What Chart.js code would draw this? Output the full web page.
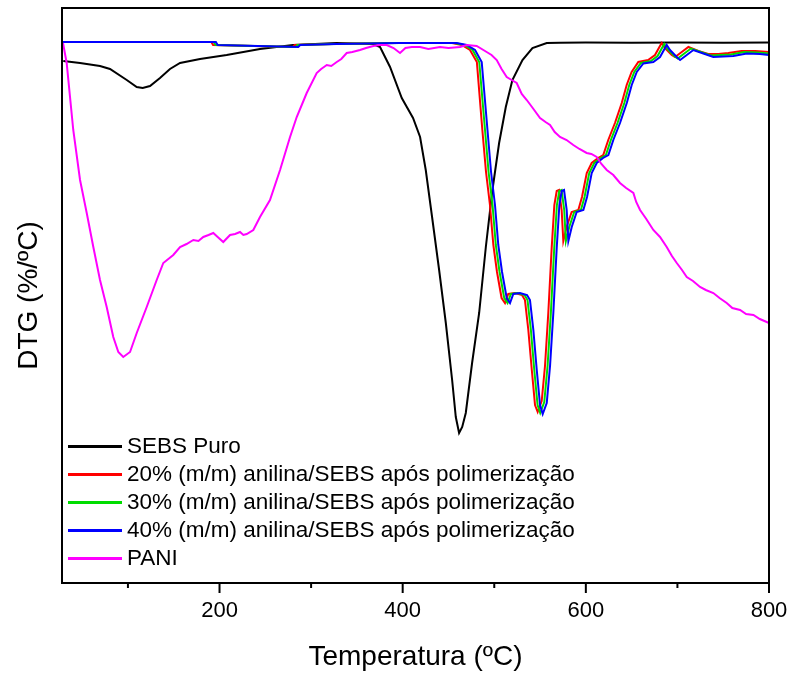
<!DOCTYPE html>
<html>
<head>
<meta charset="utf-8">
<script src="https://cdn.jsdelivr.net/npm/chart.js@4.4.0/dist/chart.umd.min.js"></script>
<style>
body{margin:0;background:#fff}
#wrap{position:relative;width:795px;height:675px}
#legenda{position:absolute;left:68px;top:432px;font:22.5px "Liberation Sans",Arial,sans-serif;color:#000}
#legenda .fila{display:flex;align-items:center;height:28px;white-space:nowrap}
#legenda .linea{width:54px;height:3px;margin-right:5px}
</style>
</head>
<body>
<div id="wrap">
  <canvas id="grafico" width="795" height="675"></canvas>
  <div id="legenda"></div>
</div>
<script>
// datos (DTG en unidades arbitrarias, negativo hacia abajo)
const nombres = ["SEBS Puro", "20% (m/m) anilina/SEBS após polimerização", "30% (m/m) anilina/SEBS após polimerização", "40% (m/m) anilina/SEBS após polimerização", "PANI"]
const colores = ["#000000", "#ff0000", "#00dd00", "#0000ff", "#ff00ff"]
const marcasX = [200, 400, 600, 800]

const tempSEBS = [29.4, 47.7, 69.5, 80.4, 98.7, 109.6, 116.1, 124.1, 135, 145.9, 156.9, 178.7, 207.8, 244.2, 280.3, 328.3, 367.6, 375.3, 386.2, 399, 411.3, 419, 425.2, 432.1, 439.8, 447.1, 454, 458, 461.6, 465, 468.9, 475.8, 483.5, 490.8, 498, 505.3, 512.6, 519.8, 530.8, 541.7, 557.3, 571.8, 600, 650, 700, 750, 800]
const dtgSEBS = [-0.19, -0.21, -0.24, -0.27, -0.38, -0.45, -0.46, -0.44, -0.36, -0.27, -0.21, -0.17, -0.13, -0.07, -0.03, -0.01, -0.02, -0.05, -0.25, -0.56, -0.76, -0.95, -1.28, -1.75, -2.28, -2.81, -3.38, -3.75, -3.91, -3.85, -3.71, -3.21, -2.71, -2.05, -1.48, -1.01, -0.65, -0.38, -0.18, -0.06, -0.01, -0.007, -0.005, -0.008, -0.006, -0.008, -0.006]

const temp20 = [28, 191, 193, 237, 280, 282, 323, 392, 454, 464.5, 473.5, 481, 487, 491, 495.3, 499, 503, 508, 511.7, 515.3, 522.6, 530.3, 533.5, 537.2, 541, 544.5, 547.4, 551.8, 555.4, 559, 562.7, 565.6, 568.2, 570.7, 573.6, 575.4, 579, 584.5, 591.8, 595.8, 601, 606.4, 613.3, 619, 624.5, 631.8, 639.2, 644.6, 650, 657.3, 668, 675.5, 682.8, 686.4, 693.8, 697.4, 704.7, 712, 722.8, 733.7, 744.6, 755.6, 770, 785, 800]
const dtg20 = [0, 0, -0.03, -0.04, -0.05, -0.03, -0.02, -0.01, -0.01, -0.03, -0.08, -0.2, -0.88, -1.3, -1.63, -2.03, -2.3, -2.56, -2.61, -2.52, -2.51, -2.53, -2.58, -2.88, -3.28, -3.63, -3.7, -3.59, -3.24, -2.71, -2.06, -1.63, -1.49, -1.48, -1.68, -1.99, -1.85, -1.7, -1.68, -1.55, -1.31, -1.21, -1.16, -1.13, -0.98, -0.81, -0.61, -0.43, -0.3, -0.2, -0.18, -0.13, -0.01, -0.06, -0.13, -0.15, -0.1, -0.05, -0.09, -0.12, -0.12, -0.11, -0.09, -0.09, -0.1]

const temp30 = [28, 193.5, 195.7, 239.3, 283, 285.2, 325.3, 394.3, 456.3, 467.3, 476.3, 483.6, 489.9, 493.8, 498.1, 501.7, 505.8, 510.9, 514.5, 518.1, 525.4, 533.1, 536.3, 540, 543.7, 547.3, 550.2, 554.6, 558.2, 561.8, 565.5, 568.4, 571, 573.5, 576.4, 578.2, 581.9, 587.3, 594.6, 598.6, 603.7, 609.2, 616.1, 621.9, 627.3, 634.6, 642, 647.4, 652.9, 660.1, 671, 678.3, 685.6, 689.2, 696.6, 700.2, 707.5, 714.7, 725.6, 736.5, 747.4, 758.4, 773, 787.5, 800]
const dtg30 = [0, 0, -0.03, -0.04, -0.05, -0.03, -0.02, -0.01, -0.01, -0.03, -0.08, -0.2, -0.88, -1.3, -1.63, -2.03, -2.3, -2.56, -2.61, -2.52, -2.51, -2.53, -2.58, -2.88, -3.28, -3.63, -3.71, -3.6, -3.24, -2.71, -2.06, -1.63, -1.49, -1.48, -1.68, -1.99, -1.85, -1.7, -1.68, -1.55, -1.31, -1.21, -1.16, -1.13, -0.98, -0.81, -0.61, -0.43, -0.3, -0.21, -0.19, -0.14, -0.02, -0.07, -0.14, -0.165, -0.115, -0.065, -0.1, -0.135, -0.13, -0.125, -0.1, -0.105, -0.115]

const temp40 = [28, 196, 198, 242, 286, 288, 328, 397, 459, 470, 479, 486.3, 492.6, 496.5, 500.8, 504.4, 508.5, 513.6, 517.2, 520.8, 528.1, 535.8, 539, 542.7, 546.4, 550, 552.9, 557.3, 560.9, 564.5, 568.2, 571.1, 573.7, 576.2, 579.1, 580.9, 584.6, 590, 597.3, 601.3, 606.4, 611.9, 618.8, 624.6, 630, 637.3, 644.7, 650.1, 655.6, 662.8, 673.7, 681, 688.3, 691.9, 699.3, 702.9, 710.2, 717.4, 728.3, 739.2, 750.1, 761.1, 775.7, 790.2, 800]
const dtg40 = [0, 0, -0.03, -0.04, -0.05, -0.03, -0.02, -0.01, -0.01, -0.03, -0.08, -0.2, -0.88, -1.3, -1.63, -2.03, -2.3, -2.56, -2.61, -2.52, -2.51, -2.53, -2.58, -2.88, -3.28, -3.63, -3.72, -3.61, -3.24, -2.71, -2.06, -1.63, -1.49, -1.48, -1.68, -1.99, -1.85, -1.7, -1.68, -1.55, -1.31, -1.21, -1.16, -1.13, -0.98, -0.81, -0.61, -0.43, -0.3, -0.215, -0.2, -0.15, -0.03, -0.08, -0.15, -0.18, -0.13, -0.08, -0.115, -0.15, -0.145, -0.14, -0.115, -0.12, -0.13]

const tempPANI = [29.1, 33.1, 40.3, 47.7, 55, 62.2, 69.5, 76.8, 84, 89.5, 94.9, 102.3, 109.6, 120.5, 131.4, 138.6, 149.5, 156.9, 164, 171.4, 177, 182.3, 188, 193.2, 198, 204.1, 211.5, 217, 222.4, 226, 229.7, 236.9, 244.2, 255.1, 266.1, 277, 284.3, 295.2, 306.1, 311, 317.1, 322, 328, 333, 338.9, 345, 353.4, 360, 368, 375, 382.6, 390, 397.1, 403, 410, 419, 428, 440.8, 450, 462.6, 470, 480.8, 491.7, 497, 502.7, 508, 513.6, 519, 524.5, 530, 535.5, 542, 550, 556, 560.9, 566, 571.8, 579, 586.3, 593, 600.9, 606, 611.9, 617, 622.8, 630, 637.3, 644, 651.9, 655, 659.2, 666, 673.7, 681, 688.3, 694, 699.3, 705, 710.2, 717, 724.7, 731, 739.2, 746, 753.8, 760, 768.4, 775, 783, 790, 797.5, 800]
const dtgPANI = [-0.01, -0.21, -0.88, -1.38, -1.71, -2.05, -2.38, -2.65, -2.95, -3.1, -3.15, -3.1, -2.91, -2.65, -2.38, -2.21, -2.13, -2.05, -2.02, -1.98, -1.99, -1.95, -1.93, -1.91, -1.95, -2, -1.93, -1.92, -1.9, -1.93, -1.92, -1.88, -1.75, -1.58, -1.28, -0.95, -0.75, -0.51, -0.31, -0.27, -0.23, -0.24, -0.2, -0.17, -0.11, -0.1, -0.08, -0.06, -0.04, -0.03, -0.03, -0.06, -0.11, -0.06, -0.05, -0.05, -0.07, -0.05, -0.06, -0.05, -0.03, -0.04, -0.1, -0.13, -0.18, -0.27, -0.35, -0.38, -0.41, -0.52, -0.58, -0.66, -0.76, -0.8, -0.83, -0.9, -0.95, -0.98, -1.03, -1.07, -1.11, -1.12, -1.15, -1.22, -1.28, -1.33, -1.41, -1.46, -1.51, -1.6, -1.68, -1.77, -1.88, -1.95, -2.05, -2.14, -2.21, -2.28, -2.35, -2.39, -2.45, -2.48, -2.51, -2.56, -2.61, -2.66, -2.68, -2.72, -2.73, -2.77, -2.8, -2.81]

const temps = [tempSEBS, temp20, temp30, temp40, tempPANI]
const dtgs = [dtgSEBS, dtg20, dtg30, dtg40, dtgPANI]
const orden = [5, 4, 3, 2, 1]

const fuente = '"Liberation Sans", Arial, sans-serif'

const datasets = nombres.map((n, i) => ({
    label: n,
    data: temps[i].map((t, j) => ({x: t, y: dtgs[i][j]})),
    borderColor: colores[i],
    backgroundColor: colores[i],
    borderWidth: 2,
    pointRadius: 0,
    tension: 0,
    order: orden[i]
}))

// marco del grafico y marcas del eje x
const marco = {
    id: "marco",
    afterDraw(chart) {
        const ctx = chart.ctx
        const a = chart.chartArea
        const ex = chart.scales.x
        ctx.save()
        ctx.strokeStyle = "#000"
        ctx.lineWidth = 2
        ctx.strokeRect(a.left, a.top, a.right - a.left, a.bottom - a.top)
        for (let t = 100; t <= 800; t += 100) {
            let px = ex.getPixelForValue(t)
            let largo = t % 200 === 0 ? 10 : 5
            ctx.beginPath()
            ctx.moveTo(px, a.bottom)
            ctx.lineTo(px, a.bottom + largo)
            ctx.stroke()
        }
        ctx.restore()
    }
}

new Chart(document.getElementById("grafico"), {
    type: "line",
    data: { datasets },
    options: {
        responsive: false,
        animation: false,
        devicePixelRatio: 1,
        layout: { padding: { top: 8, right: 26, left: 0, bottom: 0 } },
        plugins: { legend: { display: false }, tooltip: { enabled: false } },
        scales: {
            x: {
                type: "linear",
                min: 28,
                max: 800,
                afterBuildTicks: s => { s.ticks = marcasX.map(v => ({ value: v })) },
                afterFit: s => { s.height = 92; s.paddingLeft = 0; s.paddingRight = 0 },
                grid: { display: false, drawTicks: false },
                border: { display: false },
                ticks: { color: "#000", font: { family: fuente, size: 22 }, padding: 15, maxRotation: 0 },
                title: { display: true, text: "Temperatura (ºC)", color: "#000", font: { family: fuente, size: 28 }, padding: { top: 0, bottom: 1 } }
            },
            y: {
                min: -5.41,
                max: 0.34,
                afterFit: s => { s.width = 62; s.paddingTop = 0; s.paddingBottom = 0 },
                grid: { display: false, drawTicks: false },
                border: { display: false },
                ticks: { display: false },
                title: { display: true, text: "DTG (%/ºC)", color: "#000", font: { family: fuente, size: 28 }, padding: { top: 12, bottom: 0 } }
            }
        }
    },
    plugins: [marco]
})

// leyenda dentro del area del grafico
const legenda = document.getElementById("legenda")
nombres.forEach((n, i) => {
    let fila = document.createElement("div")
    fila.className = "fila"
    let linea = document.createElement("div")
    linea.className = "linea"
    linea.style.background = colores[i]
    let texto = document.createElement("span")
    texto.innerText = n
    fila.appendChild(linea)
    fila.appendChild(texto)
    legenda.appendChild(fila)
})
</script>
</body>
</html>
